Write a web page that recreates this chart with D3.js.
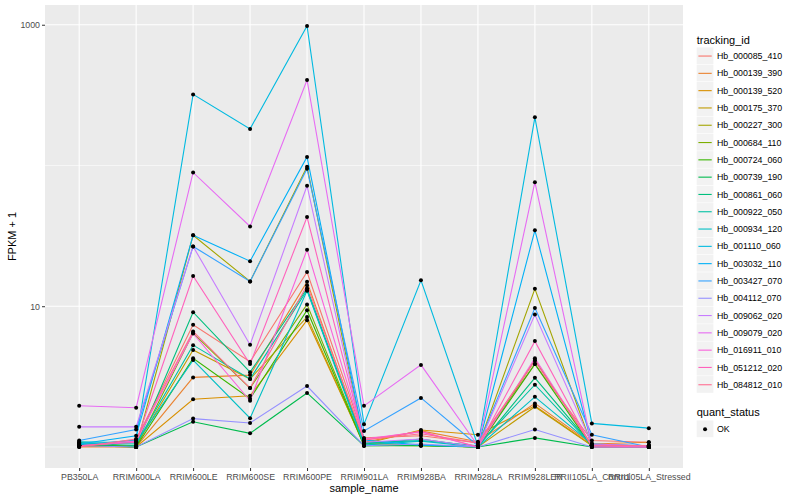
<!DOCTYPE html>
<html>
<head>
<meta charset="utf-8">
<script src="https://cdn.jsdelivr.net/npm/d3@7"></script>
<style>
  body { margin: 0; background: #fff; }
  svg text { font-family: "Liberation Sans", Arial, sans-serif; }
</style>
</head>
<body>
<div id="chart"></div>
<script>
// sample names along x
const samples = ["PB350LA", "RRIM600LA", "RRIM600LE", "RRIM600SE", "RRIM600PE", "RRIM901LA",
  "RRIM928BA", "RRIM928LA", "RRIM928LER", "RRII105LA_Control", "RRII105LA_Stressed"];

const trackingIds = ["Hb_000085_410", "Hb_000139_390", "Hb_000139_520", "Hb_000175_370", "Hb_000227_300",
  "Hb_000684_110", "Hb_000724_060", "Hb_000739_190", "Hb_000861_060", "Hb_000922_050",
  "Hb_000934_120", "Hb_001110_060", "Hb_003032_110", "Hb_003427_070", "Hb_004112_070",
  "Hb_009062_020", "Hb_009079_020", "Hb_016911_010", "Hb_051212_020", "Hb_084812_010"];

// FPKM + 1, one row per tracking_id, columns follow samples
const fpkm = [
  [1.02, 1.12, 7.37, 4.03, 17.5, 1.16, 1.20, 1.07, 3.88, 1.11, 1.08],
  [1.00, 1.00, 3.12, 3.24, 14.9, 1.08, 1.30, 1.09, 2.04, 1.05, 1.08],
  [1.02, 1.00, 2.18, 2.31, 7.96, 1.05, 1.32, 1.22, 1.96, 1.03, 1.02],
  [1.03, 1.02, 4.88, 3.04, 8.40, 1.03, 1.03, 1.00, 1.93, 1.02, 1.00],
  [1.02, 1.00, 31.9, 15.0, 97.9, 1.07, 1.03, 1.00, 13.3, 1.02, 1.00],
  [1.03, 1.00, 6.44, 2.62, 10.3, 1.03, 1.02, 1.00, 4.14, 1.02, 1.00],
  [1.05, 1.00, 4.26, 2.20, 9.37, 1.02, 1.02, 1.00, 3.88, 1.00, 1.00],
  [1.05, 1.00, 1.51, 1.25, 2.42, 1.02, 1.03, 1.00, 1.16, 1.00, 1.00],
  [1.07, 1.02, 9.07, 3.40, 13.4, 1.05, 1.14, 1.00, 3.10, 1.03, 1.00],
  [1.07, 1.05, 5.29, 3.04, 13.0, 1.07, 1.11, 1.02, 2.77, 1.03, 1.02],
  [1.09, 1.07, 4.14, 1.60, 12.9, 1.03, 1.10, 1.00, 2.27, 1.05, 1.02],
  [1.03, 1.12, 320, 182, 979, 1.45, 15.3, 1.02, 220, 1.47, 1.36],
  [1.05, 1.20, 31.9, 20.9, 115, 1.12, 1.03, 1.00, 34.6, 1.05, 1.00],
  [1.11, 1.33, 26.6, 15.0, 94.8, 1.30, 2.23, 1.02, 9.72, 1.22, 1.00],
  [1.02, 1.00, 1.59, 1.48, 2.71, 1.02, 1.05, 1.00, 1.33, 1.00, 1.00],
  [1.39, 1.39, 26.6, 5.32, 71.8, 1.08, 1.14, 1.00, 8.73, 1.05, 1.02],
  [1.96, 1.90, 89.2, 36.9, 405, 1.96, 3.83, 1.02, 76.1, 1.03, 1.02],
  [1.02, 1.10, 6.40, 2.13, 25.2, 1.14, 1.28, 1.00, 4.26, 1.02, 1.00],
  [1.02, 1.08, 16.4, 3.88, 43.0, 1.12, 1.29, 1.00, 5.65, 1.00, 1.00],
  [1.00, 1.14, 6.62, 2.62, 14.1, 1.12, 1.24, 1.07, 4.09, 1.03, 1.02]
];

const yBreaks = [10, 1000];
const yMinor = [1, 100];
const statusLevels = ["OK"];

// ggplot default hue palette for 20 levels
const palette = ["#F8766D", "#EA8331", "#D89000", "#C09B00", "#A3A500", "#7CAE00", "#39B600", "#00BB4E",
  "#00BF7D", "#00C1A3", "#00BFC4", "#00BAE0", "#00B0F6", "#35A2FF", "#9590FF", "#C77CFF",
  "#E76BF3", "#FA62DB", "#FF62BC", "#FF6C91"];

const W = 800, H = 500;
const panel = { left: 45, right: 683, top: 5, bottom: 468 };

const svg = d3.select("#chart").append("svg")
  .attr("width", W)
  .attr("height", H);

const series = trackingIds.map((id, i) => ({
  id: id,
  values: samples.map((s, j) => ({ sample: s, v: fpkm[i][j] }))
}));

const x = d3.scalePoint()
  .domain(samples)
  .range([panel.left, panel.right])
  .padding(0.6);

// log y with ggplot style 5% expansion
const allVals = fpkm.flat();
const lo = Math.log10(d3.min(allVals)), hi = Math.log10(d3.max(allVals));
const ex = (hi - lo) * 0.05;
const y = d3.scaleLog()
  .domain([Math.pow(10, lo - ex), Math.pow(10, hi + ex)])
  .range([panel.bottom, panel.top]);

const color = d3.scaleOrdinal().domain(trackingIds).range(palette);

// panel background
svg.append("rect")
  .attr("x", panel.left)
  .attr("y", panel.top)
  .attr("width", panel.right - panel.left)
  .attr("height", panel.bottom - panel.top)
  .attr("fill", "#EBEBEB");

// grid
svg.append("g").selectAll("line")
  .data(yMinor)
  .join("line")
  .attr("x1", panel.left).attr("x2", panel.right)
  .attr("y1", d => y(d)).attr("y2", d => y(d))
  .attr("stroke", "#fff").attr("stroke-width", 0.55);

svg.append("g").selectAll("line")
  .data(yBreaks)
  .join("line")
  .attr("x1", panel.left).attr("x2", panel.right)
  .attr("y1", d => y(d)).attr("y2", d => y(d))
  .attr("stroke", "#fff").attr("stroke-width", 1.1);

svg.append("g").selectAll("line")
  .data(samples)
  .join("line")
  .attr("x1", d => x(d)).attr("x2", d => x(d))
  .attr("y1", panel.top).attr("y2", panel.bottom)
  .attr("stroke", "#fff").attr("stroke-width", 1.1);

// lines
const line = d3.line()
  .x(d => x(d.sample))
  .y(d => y(d.v));

svg.append("g").selectAll("path")
  .data(series)
  .join("path")
  .attr("d", d => line(d.values))
  .attr("fill", "none")
  .attr("stroke", d => color(d.id))
  .attr("stroke-width", 1.1);

// points
svg.append("g").selectAll("circle")
  .data(series.flatMap(d => d.values))
  .join("circle")
  .attr("cx", d => x(d.sample))
  .attr("cy", d => y(d.v))
  .attr("r", 2)
  .attr("fill", "#000");

// axes
const xAxis = svg.append("g")
  .attr("transform", `translate(0,${panel.bottom})`)
  .call(d3.axisBottom(x).tickSize(3).tickPadding(3).tickSizeOuter(0));
xAxis.select(".domain").remove();
xAxis.selectAll("line").attr("stroke", "#333");
xAxis.selectAll("text")
  .attr("fill", "#4D4D4D")
  .style("font-size", "8.8px");

const yAxis = svg.append("g")
  .attr("transform", `translate(${panel.left},0)`)
  .call(d3.axisLeft(y).tickValues(yBreaks).tickFormat(d3.format("d")).tickSize(3).tickPadding(2).tickSizeOuter(0));
yAxis.select(".domain").remove();
yAxis.selectAll("line").attr("stroke", "#333");
yAxis.selectAll("text")
  .attr("fill", "#4D4D4D")
  .style("font-size", "8.8px");

svg.append("text")
  .attr("x", (panel.left + panel.right) / 2)
  .attr("y", 492)
  .attr("text-anchor", "middle")
  .style("font-size", "11px")
  .text("sample_name");

svg.append("text")
  .attr("transform", `translate(16,${(panel.top + panel.bottom) / 2}) rotate(-90)`)
  .attr("text-anchor", "middle")
  .style("font-size", "11px")
  .text("FPKM + 1");

// legend: tracking_id
const keySize = 17.3;
const legend = svg.append("g").attr("transform", "translate(696.7,0)");

legend.append("text")
  .attr("x", 0).attr("y", 44)
  .style("font-size", "11px")
  .text("tracking_id");

const keys = legend.selectAll("g.key")
  .data(trackingIds)
  .join("g")
  .attr("class", "key")
  .attr("transform", (d, i) => `translate(0,${47.4 + i * keySize})`);

keys.append("rect")
  .attr("width", keySize - 0.6).attr("height", keySize - 0.6)
  .attr("fill", "#F2F2F2");

keys.append("line")
  .attr("x1", 1.7).attr("x2", keySize - 2.3)
  .attr("y1", keySize / 2).attr("y2", keySize / 2)
  .attr("stroke", d => color(d))
  .attr("stroke-width", 1.1);

keys.append("text")
  .attr("x", keySize + 3)
  .attr("y", keySize / 2)
  .attr("dy", "0.35em")
  .style("font-size", "8.8px")
  .text(d => d);

// legend: quant_status
legend.append("text")
  .attr("x", 0).attr("y", 416)
  .style("font-size", "11px")
  .text("quant_status");

const skeys = legend.selectAll("g.skey")
  .data(statusLevels)
  .join("g")
  .attr("class", "skey")
  .attr("transform", (d, i) => `translate(0,${420.5 + i * keySize})`);

skeys.append("rect")
  .attr("width", keySize - 0.6).attr("height", keySize - 0.6)
  .attr("fill", "#F2F2F2");

skeys.append("circle")
  .attr("cx", keySize / 2 - 0.3).attr("cy", keySize / 2)
  .attr("r", 2)
  .attr("fill", "#000");

skeys.append("text")
  .attr("x", keySize + 3)
  .attr("y", keySize / 2)
  .attr("dy", "0.35em")
  .style("font-size", "8.8px")
  .text(d => d);
</script>
</body>
</html>
